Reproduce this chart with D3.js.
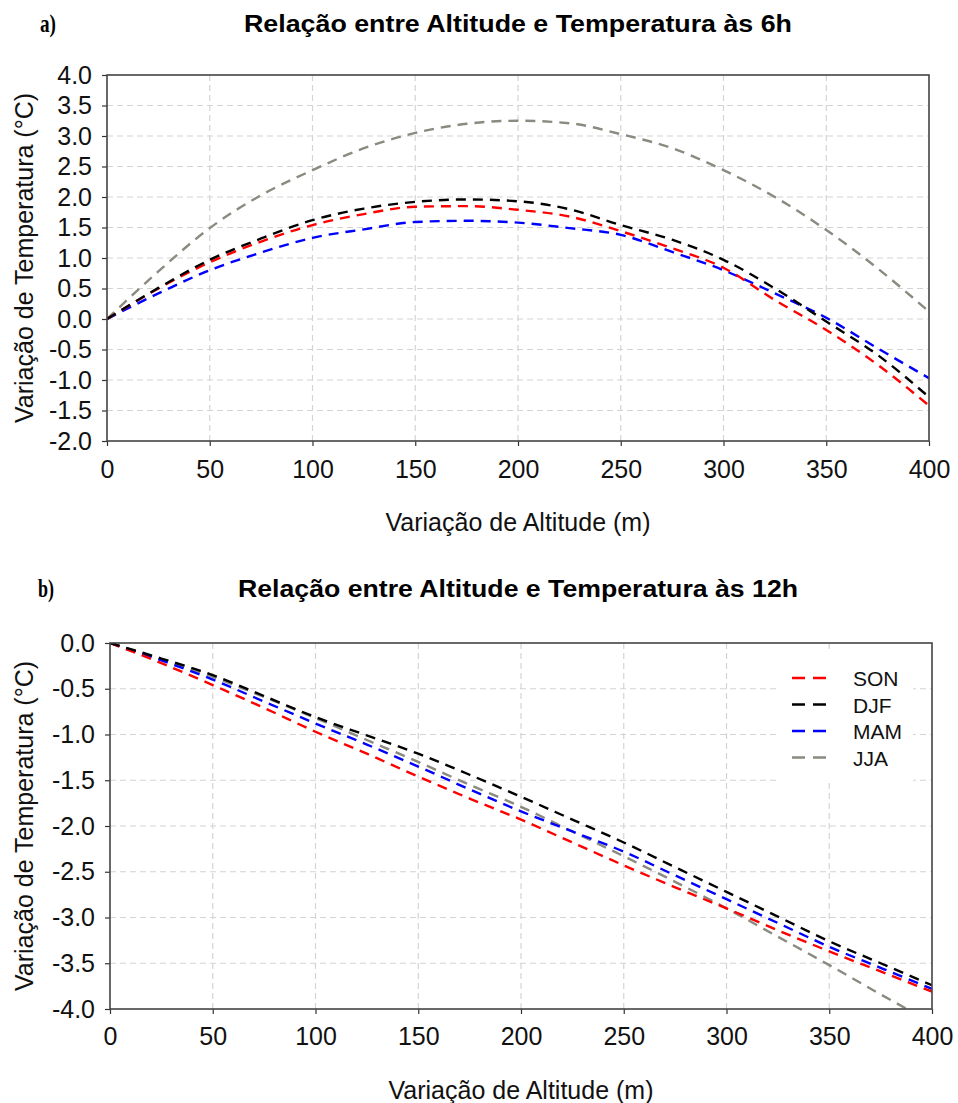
<!DOCTYPE html>
<html><head><meta charset="utf-8">
<script src="https://cdn.jsdelivr.net/npm/d3@7"></script>
<style>body{margin:0;background:#fff}svg{display:block}</style>
</head><body>
<script>
// ---- data ----
const altitude = [0,25,50,75,100,125,150,175,200,225,250,275,300,325,350,375,400];
const seasons = ["SON","DJF","MAM","JJA"];
const seasonColors = {SON:"#ff0000", DJF:"#000000", MAM:"#0000ff", JJA:"#8a8a80"};
// Panel a (06h)
const a_SON = [0,0.50,0.93,1.27,1.54,1.72,1.84,1.85,1.79,1.68,1.44,1.16,0.84,0.31,-0.18,-0.75,-1.42];
const a_DJF = [0,0.51,0.97,1.32,1.62,1.81,1.92,1.96,1.93,1.80,1.54,1.30,0.97,0.50,-0.04,-0.59,-1.28];
const a_MAM = [0,0.42,0.80,1.09,1.33,1.47,1.59,1.61,1.58,1.49,1.38,1.10,0.80,0.42,0.02,-0.48,-0.97];
const a_JJA = [0,0.78,1.49,2.03,2.44,2.80,3.05,3.20,3.25,3.21,3.03,2.80,2.44,2.00,1.46,0.83,0.12];
// Panel b (12h)
const b_SON = [0,-0.22,-0.46,-0.71,-0.97,-1.21,-1.46,-1.70,-1.93,-2.18,-2.43,-2.67,-2.90,-3.14,-3.37,-3.59,-3.81];
const b_DJF = [0,-0.17,-0.35,-0.58,-0.81,-1.01,-1.21,-1.44,-1.68,-1.93,-2.18,-2.45,-2.72,-2.99,-3.26,-3.50,-3.74];
const b_MAM = [0,-0.19,-0.40,-0.64,-0.88,-1.11,-1.35,-1.60,-1.84,-2.06,-2.28,-2.54,-2.80,-3.06,-3.32,-3.55,-3.78];
const b_JJA = [0,-0.18,-0.37,-0.59,-0.82,-1.06,-1.30,-1.55,-1.79,-2.06,-2.33,-2.61,-2.90,-3.21,-3.52,-3.84,-4.15];
const xTicks = [0,50,100,150,200,250,300,350,400];
const yTicksA = [4.0,3.5,3.0,2.5,2.0,1.5,1.0,0.5,0.0,-0.5,-1.0,-1.5,-2.0];
const yTicksB = [0.0,-0.5,-1.0,-1.5,-2.0,-2.5,-3.0,-3.5,-4.0];

const panels = [
  {tag:"a)", title:"Relação entre Altitude e Temperatura às 6h", data:{SON:a_SON,DJF:a_DJF,MAM:a_MAM,JJA:a_JJA},
   yDomain:[-2,4], yTicks:yTicksA, left:107, right:929, top:75, bottom:441, titleY:32, titleW:548, legend:false},
  {tag:"b)", title:"Relação entre Altitude e Temperatura às 12h", data:{SON:b_SON,DJF:b_DJF,MAM:b_MAM,JJA:b_JJA},
   yDomain:[-4,0], yTicks:yTicksB, left:110, right:932, top:643, bottom:1009, titleY:597, titleW:560, legend:true}
];

const W=958,H=1103;
const svg=d3.select("body").append("svg").attr("width",W).attr("height",H);
const FONT="Liberation Sans, Arial, sans-serif";

panels.forEach((p,pi)=>{
  const x=d3.scaleLinear().domain([0,400]).range([p.left,p.right]);
  const y=d3.scaleLinear().domain(p.yDomain).range([p.bottom,p.top]);
  const g=svg.append("g");
  const cid="clip"+pi;
  svg.append("clipPath").attr("id",cid).append("rect")
    .attr("x",p.left).attr("y",p.top).attr("width",p.right-p.left).attr("height",p.bottom-p.top);

  // grid
  g.append("g").selectAll("line").data(xTicks.slice(1,-1)).join("line")
    .attr("x1",d=>x(d)).attr("x2",d=>x(d)).attr("y1",p.top).attr("y2",p.bottom)
    .attr("stroke","#d4d4d4").attr("stroke-width",1.2).attr("stroke-dasharray","6,4");
  g.append("g").selectAll("line").data(p.yTicks.slice(1,-1)).join("line")
    .attr("x1",p.left).attr("x2",p.right).attr("y1",d=>y(d)).attr("y2",d=>y(d))
    .attr("stroke","#d4d4d4").attr("stroke-width",1.2).attr("stroke-dasharray","6,4");

  // legend background (covers grid)
  if(p.legend){
    g.append("rect").attr("x",777).attr("y",651).attr("width",136).attr("height",130).attr("fill","#fff");
  }

  // lines
  const line=d3.line().x((d,i)=>x(altitude[i])).y(d=>y(d)).curve(d3.curveMonotoneX);
  const order=["JJA","MAM","SON","DJF"];
  g.append("g").attr("clip-path",`url(#${cid})`).selectAll("path").data(order).join("path")
    .attr("d",s=>line(p.data[s])).attr("fill","none").attr("stroke",s=>seasonColors[s])
    .attr("stroke-width",2.4).attr("stroke-dasharray","10,7");

  // axes
  const xa=d3.axisBottom(x).tickValues(xTicks).tickSize(5).tickPadding(pi===0?14:13).tickFormat(d3.format("d"));
  const ya=d3.axisLeft(y).tickValues(p.yTicks).tickSize(5).tickPadding(10).tickFormat(d3.format(".1f"));
  const gx=g.append("g").attr("transform",`translate(0,${p.bottom})`).call(xa);
  const gy=g.append("g").attr("transform",`translate(${p.left},0)`).call(ya);
  [gx,gy].forEach(a=>{
    a.select(".domain").remove();
    a.selectAll("line").attr("stroke","#333").attr("stroke-width",1.2);
    a.selectAll("text").attr("font-family",FONT).attr("font-size",25).attr("fill","#111");
  });
  gy.selectAll("text").text(d=>d3.format(".1f")(d).replace("−","-"));
  // frame
  g.append("rect").attr("x",p.left).attr("y",p.top).attr("width",p.right-p.left).attr("height",p.bottom-p.top)
    .attr("fill","none").attr("stroke","#444").attr("stroke-width",1.6);

  // titles
  svg.append("text").attr("x",518).attr("y",p.titleY).attr("text-anchor","middle")
    .attr("font-family",FONT).attr("font-weight","bold").attr("font-size",23)
    .attr("textLength",p.titleW).attr("lengthAdjust","spacingAndGlyphs").attr("fill","#000").text(p.title);
  svg.append("text").attr("x",pi===0?40:38).attr("y",p.titleY).attr("font-family","Liberation Serif, Times New Roman, serif")
    .attr("font-weight","bold").attr("font-size",26).attr("textLength",16).attr("lengthAdjust","spacingAndGlyphs")
    .attr("fill","#000").text(p.tag);
  // axis titles
  svg.append("text").attr("x",(p.left+p.right)/2).attr("y",p.bottom+90).attr("text-anchor","middle")
    .attr("font-family",FONT).attr("font-size",25).attr("fill","#111").text("Variação de Altitude (m)");
  svg.append("text").attr("transform",`translate(33,${(p.top+p.bottom)/2}) rotate(-90)`).attr("text-anchor","middle")
    .attr("font-family",FONT).attr("font-size",25).attr("fill","#111").text("Variação de Temperatura (°C)");

  // legend
  if(p.legend){
    const lg=svg.append("g");
    seasons.forEach((s,i)=>{
      const yy=678+i*26.5;
      lg.append("line").attr("x1",792).attr("x2",826).attr("y1",yy).attr("y2",yy)
        .attr("stroke",seasonColors[s]).attr("stroke-width",2.4).attr("stroke-dasharray","13,8");
      lg.append("text").attr("x",853).attr("y",yy+8).attr("font-family",FONT).attr("font-size",21)
        .attr("fill","#111").text(s);
    });
  }
});
</script>
</body></html>
